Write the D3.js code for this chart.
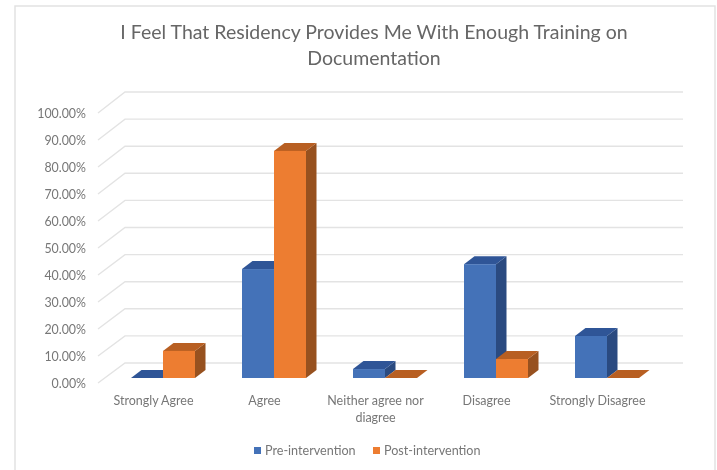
<!DOCTYPE html>
<html>
<head>
<meta charset="utf-8">
<script src="https://cdn.jsdelivr.net/npm/d3@7/dist/d3.min.js"></script>
<style>
html,body{margin:0;padding:0;background:#fff}
svg{display:block;filter:blur(0.6px)}
text{font-family:Lato,"Open Sans",sans-serif}
</style>
</head>
<body>
<div id="chart"></div>
<script>
const categories = ["Strongly Agree","Agree","Neither agree nor diagree","Disagree","Strongly Disagree"];
const seriesNames = ["Pre-intervention","Post-intervention"];
const preValues = [0, 40.2, 3.3, 42, 15.5];
const postValues = [10, 83.8, 0, 7, 0];
const yTicks = [0,10,20,30,40,50,60,70,80,90,100];
const titleLines = ["I Feel That Residency Provides Me With Enough Training on","Documentation"];

const W=717,H=470;
const svg=d3.select("#chart").append("svg").attr("width",W).attr("height",H);
svg.append("rect").attr("x",15).attr("y",6).attr("width",700).attr("height",H)
  .attr("fill","#fff").attr("stroke","#e2e2e2").attr("stroke-width",1.5);

const x=d3.scaleBand().domain(categories).range([107.5,662.5]);
const barW=32;
const ySpan=d3.scaleLinear().domain([0,100]);
const yFront=ySpan.copy().range([383,113]);
const yBack=ySpan.copy().range([363,92]);
const yBar=ySpan.copy().range([378,107]);
const backL=125,backR=683,frontL=98;
const gridCol="#e3e3e3";

// title
svg.append("g").selectAll("text").data(titleLines).join("text")
  .attr("x",374).attr("y",(d,i)=>39+i*26).attr("text-anchor","middle")
  .attr("font-size",19.5).attr("fill","#666").text(d=>d);

// grid
const grid=svg.append("g").attr("fill","none").attr("stroke",gridCol).attr("stroke-width",1.4);
grid.selectAll("path").data(yTicks).join("path")
  .attr("d",d=>`M${frontL},${yFront(d)}L${backL},${yBack(d)}L${backR},${yBack(d)}`);

// y labels
svg.append("g").selectAll("text").data(yTicks).join("text")
  .attr("x",86).attr("y",d=>yFront(d)+4.5).attr("text-anchor","end")
  .attr("font-size",12.4).attr("fill","#777").text(d=>d.toFixed(2)+"%");

// bars
const dx=10.5,dy=8;
function bar(g,x0,v,c){
  const top=yBar(v),base=yBar(0),x1=x0+barW;
  g.append("path").attr("fill",c.side).attr("d",`M${x1},${top}L${x1+dx},${top-dy}L${x1+dx},${base-dy}L${x1},${base}Z`);
  g.append("path").attr("fill",c.top).attr("d",`M${x0},${top}L${x0+dx},${top-dy}L${x1+dx},${top-dy}L${x1},${top}Z`);
  g.append("rect").attr("x",x0).attr("y",top).attr("width",barW).attr("height",base-top).attr("fill",c.front);
}
const colors=[{front:"#4472b8",top:"#2f5597",side:"#2a4a80"},{front:"#ed7d31",top:"#b85f22",side:"#97511f"}];
const barsG=svg.append("g");
categories.forEach((c,i)=>{
  const cx=x(c)+x.bandwidth()/2;
  bar(barsG,cx-barW,preValues[i],colors[0]);
  bar(barsG,cx,postValues[i],colors[1]);
});

// x labels
const xl=svg.append("g");
const wrapped={"Neither agree nor diagree":["Neither agree nor","diagree"]};
categories.forEach(c=>{
  const lines=wrapped[c]||[c];
  lines.forEach((t,i)=>xl.append("text").attr("x",x(c)+x.bandwidth()/2-9.5).attr("y",404.5+i*17)
    .attr("text-anchor","middle").attr("font-size",12.5).attr("fill","#777").text(t));
});

// legend
const leg=svg.append("g");
const legX=[254,373];
seriesNames.forEach((s,i)=>{
  leg.append("rect").attr("x",legX[i]).attr("y",447).attr("width",7).attr("height",7).attr("fill",colors[i].front);
  leg.append("text").attr("x",legX[i]+11).attr("y",455).attr("font-size",12.6).attr("fill","#777").text(s);
});
</script>
</body>
</html>
